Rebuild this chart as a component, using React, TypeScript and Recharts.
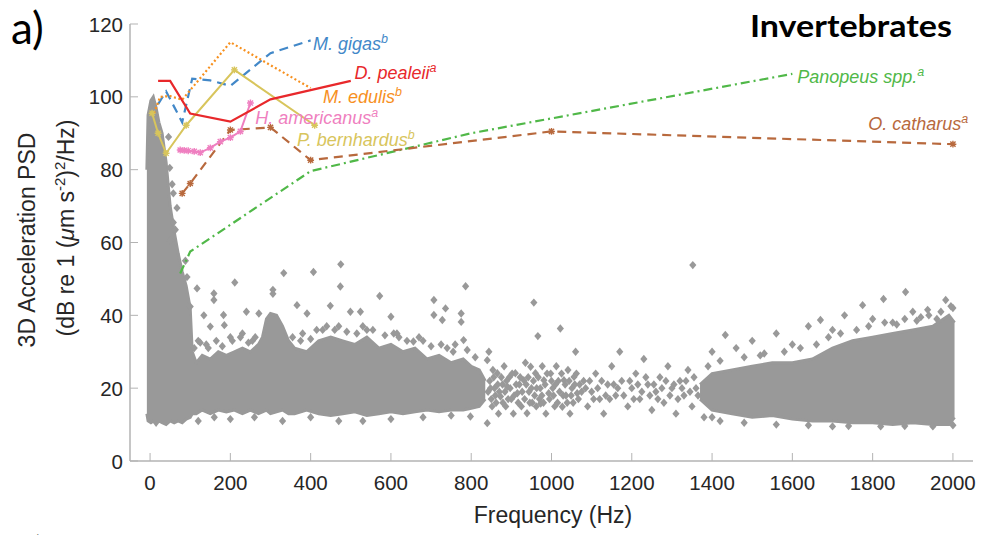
import React from 'react';
import { ComposedChart, XAxis, YAxis, Line, Area, Scatter, ReferenceDot } from 'recharts';

// ---------- axis ticks ----------
const X_TICKS = [0, 200, 400, 600, 800, 1000, 1200, 1400, 1600, 1800, 2000];
const Y_TICKS = [0, 20, 40, 60, 80, 100, 120];

// ---------- species threshold curves ----------
const GIGAS_FREQ = [20, 40, 80, 105, 150, 200, 300, 400];
const GIGAS_LEVEL = [98, 101.5, 93, 105, 104.5, 103, 112, 115.5];

const PEALEII_FREQ = [20, 50, 100, 200, 300, 500];
const PEALEII_LEVEL = [104.4, 104.4, 95.4, 93.2, 99.3, 104.4];

const EDULIS_FREQ = [10, 25, 50, 80, 200, 400];
const EDULIS_LEVEL = [95.5, 100, 100.2, 99.2, 115, 102.4];

const AMERICANUS_FREQ = [75, 85, 95, 110, 125, 150, 175, 200, 225, 250];
const AMERICANUS_LEVEL = [85.4, 85.3, 85.2, 85, 84.7, 86, 87.7, 88.8, 90.5, 98.3];

const BERNHARDUS_FREQ = [5, 20, 40, 90, 210, 410];
const BERNHARDUS_LEVEL = [95.5, 90, 84.5, 92.2, 107.4, 92.2];

const PANOPEUS_FREQ = [75, 100, 400, 800, 1600];
const PANOPEUS_LEVEL = [51.5, 57.5, 79.6, 90, 106.3];

const CATHARUS_FREQ = [80, 100, 200, 300, 400, 1000, 2000];
const CATHARUS_LEVEL = [73.5, 76.2, 90.9, 91.6, 82.6, 90.5, 87];

// ---------- measured PSD cloud (dense envelopes) ----------
const BAND_A_FREQ = [-8, -5, 2, 8, 15, 22, 30, 40, 50, 60, 70, 80, 90, 100, 105, 115, 130, 150, 170, 190, 210, 230, 250, 270, 280, 290, 300, 315, 330, 345, 360, 390, 420, 450, 480, 510, 540, 570, 600, 630, 660, 690, 720, 750, 780, 800, 820, 835];
const BAND_A_LOW = [13, 11, 10.5, 11, 10, 11, 10.5, 10, 11, 10.5, 11, 10.5, 11.5, 12, 13, 13, 14, 13, 14, 13.5, 14, 13, 14, 13, 13.5, 14, 13, 13.5, 14, 13, 13, 14, 13, 12.5, 13, 13.5, 12.5, 13, 13.5, 13, 13.5, 14, 13.5, 14, 14, 14.5, 15, 17];
const BAND_A_HIGH = [80, 95, 99, 100, 97, 93, 90, 82, 70, 63, 57, 52, 48, 42, 30, 27, 29, 28, 30, 29, 30, 31, 30, 32, 34, 39, 40.5, 40, 37, 33, 31, 30, 33, 34, 33, 32, 34, 31, 32, 30, 31, 28, 29, 27, 28, 26, 25, 22];

const BAND_B_FREQ = [1370, 1400, 1450, 1500, 1550, 1600, 1650, 1700, 1750, 1800, 1850, 1900, 1950, 1990, 2004];
const BAND_B_LOW = [17, 14, 13, 12, 12.5, 11.5, 11, 11, 10.5, 10.5, 10, 10.5, 10, 10, 12];
const BAND_B_HIGH = [21, 24, 25, 26, 27, 27, 28, 31, 33, 34, 35, 36, 37, 40, 38];

// ---------- measured PSD cloud (individual diamonds) ----------
const SPIKE_FREQ = [46, 49, 55, 58, 67, 58, 63, 50, 88, 92];
const SPIKE_LEVEL = [89, 80.5, 76, 73.5, 69.5, 65.5, 63.5, 60.5, 55, 50.5];

const UPPER_FREQ = [100, 117, 134, 150, 159, 159, 183, 185, 211, 240, 271, 306, 306, 333, 366, 391, 407, 449, 474, 475, 499, 524, 572, 600, 607, 656, 707, 707, 728, 736, 775, 775, 781, 786, 120, 140, 200, 230, 255, 380, 430, 470, 540, 620, 680, 740, 760];
const UPPER_LEVEL = [42.4, 47.4, 40, 36.9, 46, 44.2, 40.1, 37.3, 49, 41, 40.5, 47, 45.9, 51.6, 42.8, 40.5, 51.9, 42.6, 47.9, 54, 41, 41, 45.3, 39.6, 35, 32.8, 44.2, 40.1, 38.7, 41.9, 40.5, 38.2, 33.2, 48, 33, 32, 34, 35, 33, 35, 36, 37, 36, 34, 33, 31, 32];

const EDGE_A_FREQ = [110, 125, 145, 165, 180, 205, 225, 245, 262, 355, 375, 400, 415, 440, 460, 490, 515, 530, 555, 585, 615, 640, 670, 700, 725, 755, 790, 810, 120, 160, 200, 260, 330, 400, 470, 530, 600, 680, 750];
const EDGE_A_LEVEL = [31, 32.5, 31, 33, 31.5, 33, 34, 32.5, 34, 34, 33, 33.5, 36, 37, 36, 35.5, 35, 37, 36, 34.5, 35, 33, 34, 31.5, 32, 30, 30.5, 28.5, 11, 12, 11.5, 12, 11, 12, 11, 11, 11.5, 12, 12.5];

const MID_FREQ = [798, 840, 840, 844, 848, 852, 856, 860, 865, 868, 873, 878, 882, 886, 890, 895, 900, 905, 910, 915, 920, 925, 931, 935, 939, 944, 948, 952, 956, 960, 963, 966, 970, 973, 977, 981, 986, 993, 998, 1003, 1008, 1012, 1017, 1022, 1027, 1031, 1036, 1041, 1046, 1051, 1056, 1060, 1064, 1070, 1080, 1090, 1100, 1110, 1120, 1130, 1140, 1150, 1160, 1170, 1175, 1190, 1200, 1210, 1220, 1230, 1240, 1250, 1260, 1270, 1280, 1290, 1300, 1310, 1320, 1330, 1340, 1350, 1352, 1360];
const MID_LEVEL = [12.2, 10.4, 27.7, 30, 20, 15, 23, 18, 24.1, 13, 17.7, 21, 26, 15, 20.4, 23, 17, 13, 24.1, 18.6, 21, 15, 22.2, 27, 13.1, 19, 25.9, 16, 43.5, 24.1, 20, 34.3, 17, 15.8, 26, 22.2, 13, 18.6, 24, 20, 15, 26, 22, 36.4, 14.9, 22.2, 18, 25, 13, 20, 23.1, 30, 18.6, 21, 22, 15, 19, 24, 17, 13, 21, 26, 18, 30, 22, 15, 20, 24, 17, 28, 21, 14, 19, 23, 16, 26, 20, 13, 22, 18, 25, 15, 53.8, 20];

const MID2_FREQ = [842, 846, 850, 854, 858, 862, 866, 870, 875, 879, 884, 888, 892, 897, 902, 907, 912, 917, 922, 927, 933, 937, 942, 946, 950, 955, 958, 962, 967, 972, 976, 980, 984, 989, 995, 1000, 1005, 1010, 1015, 1020, 1025, 1029, 1034, 1039, 1044, 1049, 1054, 1058, 1062, 1067, 1075, 1085, 1095, 1105, 1115, 1125, 1135, 1145, 1155, 1165, 1180, 1195, 1205, 1215, 1225, 1235, 1245, 1255, 1265, 1275, 1285, 1295, 1305, 1315, 1325, 1335, 1345, 1355, 1365];
const MID2_LEVEL = [19, 22, 17, 25, 20, 16, 21, 19, 23, 16, 19, 22, 17, 20, 24, 18, 21, 16, 23, 19, 17, 21, 23, 16, 20, 22, 18, 15, 23, 20, 18, 16, 21, 24, 17, 22, 18, 21, 16, 19, 24, 18, 21, 16, 22, 18, 16, 21, 24, 17, 19, 20, 22, 17, 20, 22, 18, 17, 21, 20, 18, 22, 17, 21, 19, 23, 18, 21, 17, 20, 22, 18, 21, 17, 20, 22, 19, 23, 18];

const RIGHT_FREQ = [1380, 1400, 1420, 1433, 1460, 1500, 1530, 1560, 1600, 1640, 1670, 1700, 1700, 1730, 1775, 1800, 1827, 1850, 1882, 1900, 1920, 1937, 1950, 1960, 1982, 2000];
const RIGHT_LEVEL = [12, 30, 11, 34.6, 31, 33, 29.5, 35, 32, 37, 38.7, 36, 9.5, 40, 42.8, 39, 44.5, 38, 46.4, 41, 39.5, 41.5, 9.5, 39, 44.2, 42];

const EDGE_B_FREQ = [1390, 1420, 1480, 1520, 1580, 1620, 1660, 1690, 1720, 1760, 1790, 1830, 1860, 1880, 1910, 1940, 1970, 1995, 1400, 1480, 1560, 1640, 1740, 1820, 1880, 2000];
const EDGE_B_LEVEL = [26, 27.5, 28.5, 29, 30, 31, 32, 34, 35, 36, 37, 38, 37.5, 39, 38.5, 40, 41, 42.5, 12, 10.5, 10, 9.8, 9.6, 9.5, 9.6, 9.8];

// ---------- helpers ----------
const pts = (f: number[], v: number[]) => f.map((x, i) => ({ f: x, v: v[i] }));
const band = (f: number[], lo: number[], hi: number[]) => f.map((x, i) => ({ f: x, r: [lo[i], hi[i]] }));

const cloudPoints = [
  ...pts(SPIKE_FREQ, SPIKE_LEVEL),
  ...pts(UPPER_FREQ, UPPER_LEVEL),
  ...pts(EDGE_A_FREQ, EDGE_A_LEVEL),
  ...pts(MID_FREQ, MID_LEVEL),
  ...pts(MID2_FREQ, MID2_LEVEL),
  ...pts(RIGHT_FREQ, RIGHT_LEVEL),
  ...pts(EDGE_B_FREQ, EDGE_B_LEVEL),
];

const GRAY = '#999999';
const FONT = '"Liberation Sans", Arial, Helvetica, sans-serif';

const C = {
  gigas: '#4288c8',
  pealeii: '#e8282b',
  edulis: '#f7901e',
  americanus: '#ef7fc0',
  bernhardus: '#d8c55c',
  panopeus: '#50b848',
  catharus: '#b8693d',
};

const Diamond = (p: any) => {
  const { cx, cy } = p;
  if (cx == null || cy == null) return <g />;
  const w = 3.6, h = 4.2;
  return <polygon points={`${cx},${cy - h} ${cx + w},${cy} ${cx},${cy + h} ${cx - w},${cy}`} fill={GRAY} />;
};

const asterisk = (color: string) => (p: any) => {
  const { cx, cy, index } = p;
  if (cx == null || cy == null) return <g key={index} />;
  const r = 2.6;
  return (
    <path
      key={index}
      d={`M${cx - r},${cy - r}L${cx + r},${cy + r}M${cx - r},${cy + r}L${cx + r},${cy - r}M${cx - r - 0.8},${cy}L${cx + r + 0.8},${cy}M${cx},${cy - r - 0.8}L${cx},${cy + r + 0.8}`}
      stroke={color}
      strokeWidth={1.4}
      fill="none"
    />
  );
};

const XTick = (p: any) => {
  const { x, y, payload } = p;
  return (
    <g>
      <line x1={x} x2={x} y1={y} y2={y - 8} stroke="#b3b3b3" strokeWidth={1} />
      <text x={x} y={y + 29} textAnchor="middle" fontFamily={FONT} fontSize={20.5} fill="#262626">
        {payload.value}
      </text>
    </g>
  );
};

const YTick = (p: any) => {
  const { x, y, payload } = p;
  return (
    <g>
      <line x1={x} x2={x + 8} y1={y} y2={y} stroke="#b3b3b3" strokeWidth={1} />
      <text x={x - 7} y={y + 7.5} textAnchor="end" fontFamily={FONT} fontSize={20.5} fill="#262626">
        {payload.value}
      </text>
    </g>
  );
};

const SPECIES_LABELS = [
  { name: 'M. gigas', sup: 'b', f: 406, v: 112.9, color: C.gigas },
  { name: 'D. pealeii', sup: 'a', f: 509, v: 104.8, color: C.pealeii },
  { name: 'M. edulis', sup: 'b', f: 431, v: 98.2, color: C.edulis },
  { name: 'H. americanus', sup: 'a', f: 262, v: 92.5, color: C.americanus },
  { name: 'P. bernhardus', sup: 'b', f: 366, v: 86.5, color: C.bernhardus },
  { name: 'Panopeus spp.', sup: 'a', f: 1612, v: 103.7, color: C.panopeus },
  { name: 'O. catharus', sup: 'a', f: 1789, v: 90.9, color: C.catharus },
];

const labelShape = (name: string, sup: string, color: string) => (p: any) => {
  const { cx, cy } = p;
  if (cx == null || cy == null) return <g />;
  return (
    <text x={cx} y={cy} fontFamily={FONT} fontStyle="italic" fontSize={18} fill={color}>
      <tspan>{name}</tspan>
      <tspan dy={-7} fontSize={12.5}>{sup}</tspan>
    </text>
  );
};

const bandArea = (data: any[], key: string) => (
  <Area
    key={key}
    data={data}
    dataKey="r"
    type="linear"
    fill={GRAY}
    fillOpacity={1}
    stroke={GRAY}
    strokeWidth={3}
    isAnimationActive={false}
    dot={false}
    activeDot={false}
  />
);

export default function App() {
  return (
    <div style={{ position: 'absolute', left: 0, top: 0, width: 982, height: 535, background: '#fff', overflow: 'hidden' }}>
      <ComposedChart width={982} height={535} margin={{ top: 24, right: 9, left: 0, bottom: 0 }}>
        <XAxis
          type="number"
          dataKey="f"
          domain={[-50, 2050]}
          allowDataOverflow
          ticks={X_TICKS}
          interval={0}
          height={74}
          tickLine={false}
          tickSize={0}
          tickMargin={0}
          axisLine={{ stroke: '#b3b3b3', strokeWidth: 1.5 }}
          tick={<XTick />}
        />
        <YAxis
          type="number"
          domain={[0, 120]}
          allowDataOverflow
          ticks={Y_TICKS}
          interval={0}
          width={130}
          tickLine={false}
          tickSize={0}
          tickMargin={0}
          axisLine={{ stroke: '#b3b3b3', strokeWidth: 1.5 }}
          tick={<YTick />}
        />
        {bandArea(band(BAND_A_FREQ, BAND_A_LOW, BAND_A_HIGH), 'a')}
        {bandArea(band(BAND_B_FREQ, BAND_B_LOW, BAND_B_HIGH), 'b')}
        <Scatter data={cloudPoints} dataKey="v" shape={Diamond} isAnimationActive={false} zIndex={150} />

        <Line data={pts(PANOPEUS_FREQ, PANOPEUS_LEVEL)} dataKey="v" type="linear" stroke={C.panopeus} strokeWidth={2.2} strokeDasharray="9 4 2 4" dot={false} activeDot={false} isAnimationActive={false} />
        <Line data={pts(CATHARUS_FREQ, CATHARUS_LEVEL)} dataKey="v" type="linear" stroke={C.catharus} strokeWidth={2.2} strokeDasharray="9 6" dot={asterisk(C.catharus)} activeDot={false} isAnimationActive={false} />
        <Line data={pts(AMERICANUS_FREQ, AMERICANUS_LEVEL)} dataKey="v" type="linear" stroke={C.americanus} strokeWidth={2} dot={asterisk(C.americanus)} activeDot={false} isAnimationActive={false} />
        <Line data={pts(GIGAS_FREQ, GIGAS_LEVEL)} dataKey="v" type="linear" stroke={C.gigas} strokeWidth={2.2} strokeDasharray="9 6" dot={false} activeDot={false} isAnimationActive={false} />
        <Line data={pts(EDULIS_FREQ, EDULIS_LEVEL)} dataKey="v" type="linear" stroke={C.edulis} strokeWidth={2.2} strokeDasharray="2 2.5" dot={false} activeDot={false} isAnimationActive={false} />
        <Line data={pts(BERNHARDUS_FREQ, BERNHARDUS_LEVEL)} dataKey="v" type="linear" stroke={C.bernhardus} strokeWidth={2} dot={asterisk(C.bernhardus)} activeDot={false} isAnimationActive={false} />
        <Line data={pts(PEALEII_FREQ, PEALEII_LEVEL)} dataKey="v" type="linear" stroke={C.pealeii} strokeWidth={2.2} dot={false} activeDot={false} isAnimationActive={false} />

        {SPECIES_LABELS.map((l) => (
          <ReferenceDot key={l.name} x={l.f} y={l.v} r={0} shape={labelShape(l.name, l.sup, l.color)} />
        ))}
      </ComposedChart>

      <svg width={982} height={535} style={{ position: 'absolute', left: 0, top: 0, pointerEvents: 'none' }}>
        <text x={11} y={44} fontFamily="Lato, 'Open Sans', sans-serif" fontSize={44} fill="#000">a)</text>
        <text x={11} y={569} fontFamily="Lato, 'Open Sans', sans-serif" fontSize={44} fill="#000">b)</text>
        <text x={750} y={37} fontFamily="Lato, 'Open Sans', sans-serif" fontWeight="bold" fontSize={31} textLength={202} lengthAdjust="spacingAndGlyphs" fill="#000">Invertebrates</text>
        <text x={553} y={523} textAnchor="middle" fontFamily={FONT} fontSize={23} fill="#262626">Frequency (Hz)</text>
        <text transform="translate(35,240) rotate(-90)" textAnchor="middle" fontFamily={FONT} fontSize={23} fill="#262626">3D Acceleration PSD</text>
        <text transform="translate(74,228) rotate(-90)" textAnchor="middle" fontFamily={FONT} fontSize={23} fill="#262626">
          <tspan>(dB re 1 (</tspan>
          <tspan fontStyle="italic">μ</tspan>
          <tspan>m s</tspan>
          <tspan dy={-9} fontSize={15}>-2</tspan>
          <tspan dy={9}>)</tspan>
          <tspan dy={-9} fontSize={15}>2</tspan>
          <tspan dy={9}>/Hz)</tspan>
        </text>
      </svg>
    </div>
  );
}
